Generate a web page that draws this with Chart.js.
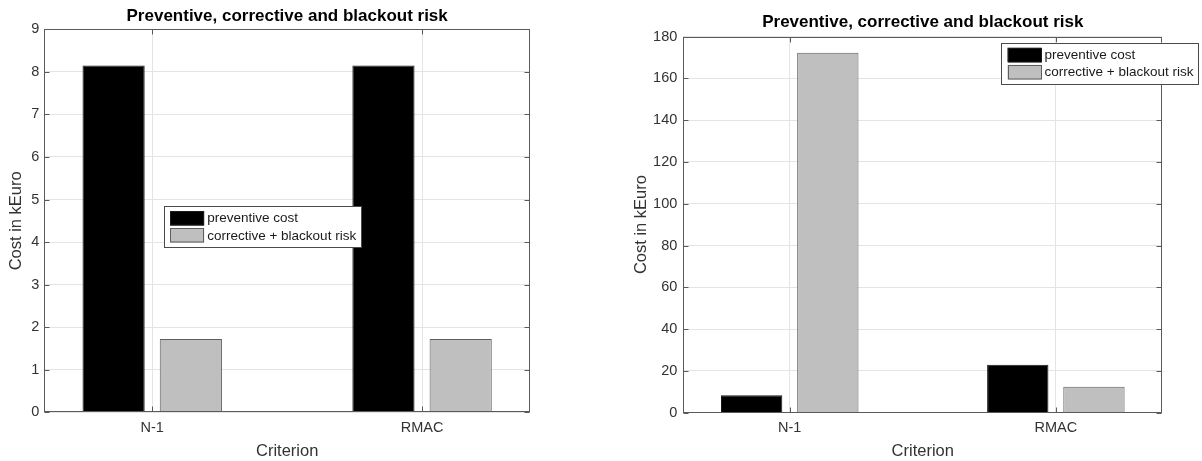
<!DOCTYPE html>
<html>
<head>
<meta charset="utf-8">
<script src="https://cdn.jsdelivr.net/npm/chart.js@4.4.1/dist/chart.umd.min.js"></script>
<style>
  html, body { margin: 0; padding: 0; background: #fff; }
  body { width: 1202px; height: 461px; position: relative; overflow: hidden; }
  canvas { position: absolute; top: 0; }
  #left { left: 0; }
  #right { left: 600px; }
</style>
</head>
<body>
<canvas id="left" width="600" height="461"></canvas>
<canvas id="right" width="602" height="461"></canvas>
<script>
// data (kEuro)
const categories = ["N-1", "RMAC"];
const seriesNames = ["preventive cost", "corrective + blackout risk"];

// left panel
const leftPreventive = [8.15, 8.15];
const leftCorrective = [1.72, 1.72];
const leftTicks = { max: 9, step: 1 };

// right panel
const rightPreventive = [8.4, 23];
const rightCorrective = [172.2, 12.4];
const rightTicks = { max: 180, step: 20 };

const titleText = "Preventive, corrective and blackout risk";
const FONT = '"Liberation Sans", Arial, Helvetica, sans-serif';
const GRID = "#e4e4e4";
const AXIS = "#5a5a5a";

Chart.defaults.font.family = FONT;
Chart.defaults.color = "#262626";

// box around plot area + inward tick marks (matlab style)
const frame = {
  id: "frame",
  afterDatasetsDraw(chart) {
    const { ctx, chartArea: a, scales } = chart;
    ctx.save();
    ctx.strokeStyle = AXIS;
    ctx.lineWidth = 1;
    const l = Math.round(a.left) + 0.5, r = Math.round(a.right) - 0.5;
    const t = Math.round(a.top) + 0.5, b = Math.round(a.bottom) - 0.5;
    ctx.strokeRect(l, t, r - l, b - t);
    ctx.beginPath();
    scales.y.ticks.forEach((tk) => {
      const y = Math.round(scales.y.getPixelForValue(tk.value)) + 0.5;
      ctx.moveTo(l, y); ctx.lineTo(l + 5, y);
      ctx.moveTo(r, y); ctx.lineTo(r - 5, y);
    });
    scales.x.ticks.forEach((tk) => {
      const x = Math.round(scales.x.getPixelForValue(tk.value)) + 0.5;
      ctx.moveTo(x, b); ctx.lineTo(x, b - 5);
      ctx.moveTo(x, t); ctx.lineTo(x, t + 5);
    });
    ctx.stroke();
    ctx.restore();
  },
};

// legend box at a free position
const boxLegend = {
  id: "boxLegend",
  afterDraw(chart, args, opts) {
    const ctx = chart.ctx;
    const sets = chart.data.datasets;
    ctx.save();
    ctx.font = "13.5px " + FONT;
    const textW = Math.max(...sets.map((d) => ctx.measureText(d.label).width));
    const sw = 34, sh = 14.5, step = 17.2;
    const w = 6.5 + sw + 3 + textW + 5;
    const h = 5 + sets.length * step + 1.9;
    ctx.fillStyle = "#fff";
    ctx.fillRect(opts.x, opts.y, w, h);
    ctx.strokeStyle = "#4a4a4a";
    ctx.lineWidth = 1;
    ctx.strokeRect(Math.round(opts.x) + 0.5, Math.round(opts.y) + 0.5, Math.round(w), Math.round(h));
    sets.forEach((d, i) => {
      const sy = opts.y + 5 + i * step;
      ctx.fillStyle = d.backgroundColor;
      ctx.fillRect(opts.x + 6.5, sy, sw, sh);
      ctx.strokeStyle = d.borderColor;
      ctx.strokeRect(Math.round(opts.x + 6.5) + 0.5, Math.round(sy) + 0.5, sw - 1, sh - 1);
      ctx.fillStyle = "#1a1a1a";
      ctx.textBaseline = "middle";
      ctx.textAlign = "left";
      ctx.fillText(d.label, opts.x + 6.5 + sw + 3, sy + sh / 2 + 0.5);
    });
    ctx.restore();
  },
};

function makeChart(id, prev, corr, yt, lay) {
  const toPoints = (vals) => vals.map((v, i) => ({ x: i + 1, y: v }));
  return new Chart(document.getElementById(id), {
    type: "bar",
    data: {
      datasets: [
        {
          label: seriesNames[0],
          data: toPoints(prev),
          backgroundColor: "#000000",
          borderColor: "#1a1a1a",
          borderWidth: 1,
        },
        {
          label: seriesNames[1],
          data: toPoints(corr),
          backgroundColor: "#bfbfbf",
          borderColor: "#5e5e5e",
          borderWidth: 1,
        },
      ],
    },
    options: {
      responsive: false,
      animation: false,
      devicePixelRatio: 1,
      categoryPercentage: 0.5725,
      barPercentage: 0.805,
      layout: { padding: { left: 0, right: lay.padRight, top: 0, bottom: 0 } },
      plugins: {
        legend: { display: false },
        tooltip: { enabled: false },
        title: {
          display: true,
          text: titleText,
          fullSize: false,
          color: "#000",
          font: { size: 17, weight: "bold" },
          padding: { top: lay.titleTop, bottom: lay.titleBottom },
        },
        boxLegend: { x: lay.legendX, y: lay.legendY },
      },
      scales: {
        x: {
          type: "linear",
          min: 0.6,
          max: 2.4,
          offset: false,
          afterBuildTicks: (s) => {
            s.ticks = categories.map((c, i) => ({ value: i + 1 }));
          },
          afterFit: (s) => {
            s.height = lay.xHeight;
          },
          grid: { color: GRID, drawTicks: false, offset: false },
          border: { display: false },
          ticks: {
            padding: 7,
            color: "#333",
            font: { size: 14.5 },
            maxRotation: 0,
            autoSkip: false,
            callback: (v) => categories[Math.round(v) - 1],
          },
          title: {
            display: true,
            text: "Criterion",
            color: "#333",
            font: { size: 16.5, lineHeight: 1.1 },
            padding: { top: 0, bottom: 0 },
          },
        },
        y: {
          min: 0,
          max: yt.max,
          afterFit: (s) => {
            s.width = lay.yWidth;
          },
          grid: { color: GRID, drawTicks: false },
          border: { display: false },
          ticks: { stepSize: yt.step, padding: lay.yTickPad, color: "#333", font: { size: 14.5 } },
          title: {
            display: true,
            text: "Cost in kEuro",
            color: "#333",
            font: { size: 16.5 },
            padding: { top: lay.yTitlePad, bottom: 0 },
          },
        },
      },
    },
    plugins: [frame, boxLegend],
  });
}

makeChart("left", leftPreventive, leftCorrective, leftTicks, {
  padRight: 70, titleTop: 5.8, titleBottom: 3.1, xHeight: 48.7, yWidth: 44.3,
  yTickPad: 5, yTitlePad: 6.6, legendX: 163.7, legendY: 206,
});

makeChart("right", rightPreventive, rightCorrective, rightTicks, {
  padRight: 39.7, titleTop: 12.6, titleBottom: 3.5, xHeight: 48.3, yWidth: 83.3,
  yTickPad: 6, yTitlePad: 31.8, legendX: 401, legendY: 42.7,
});
</script>
</body>
</html>
